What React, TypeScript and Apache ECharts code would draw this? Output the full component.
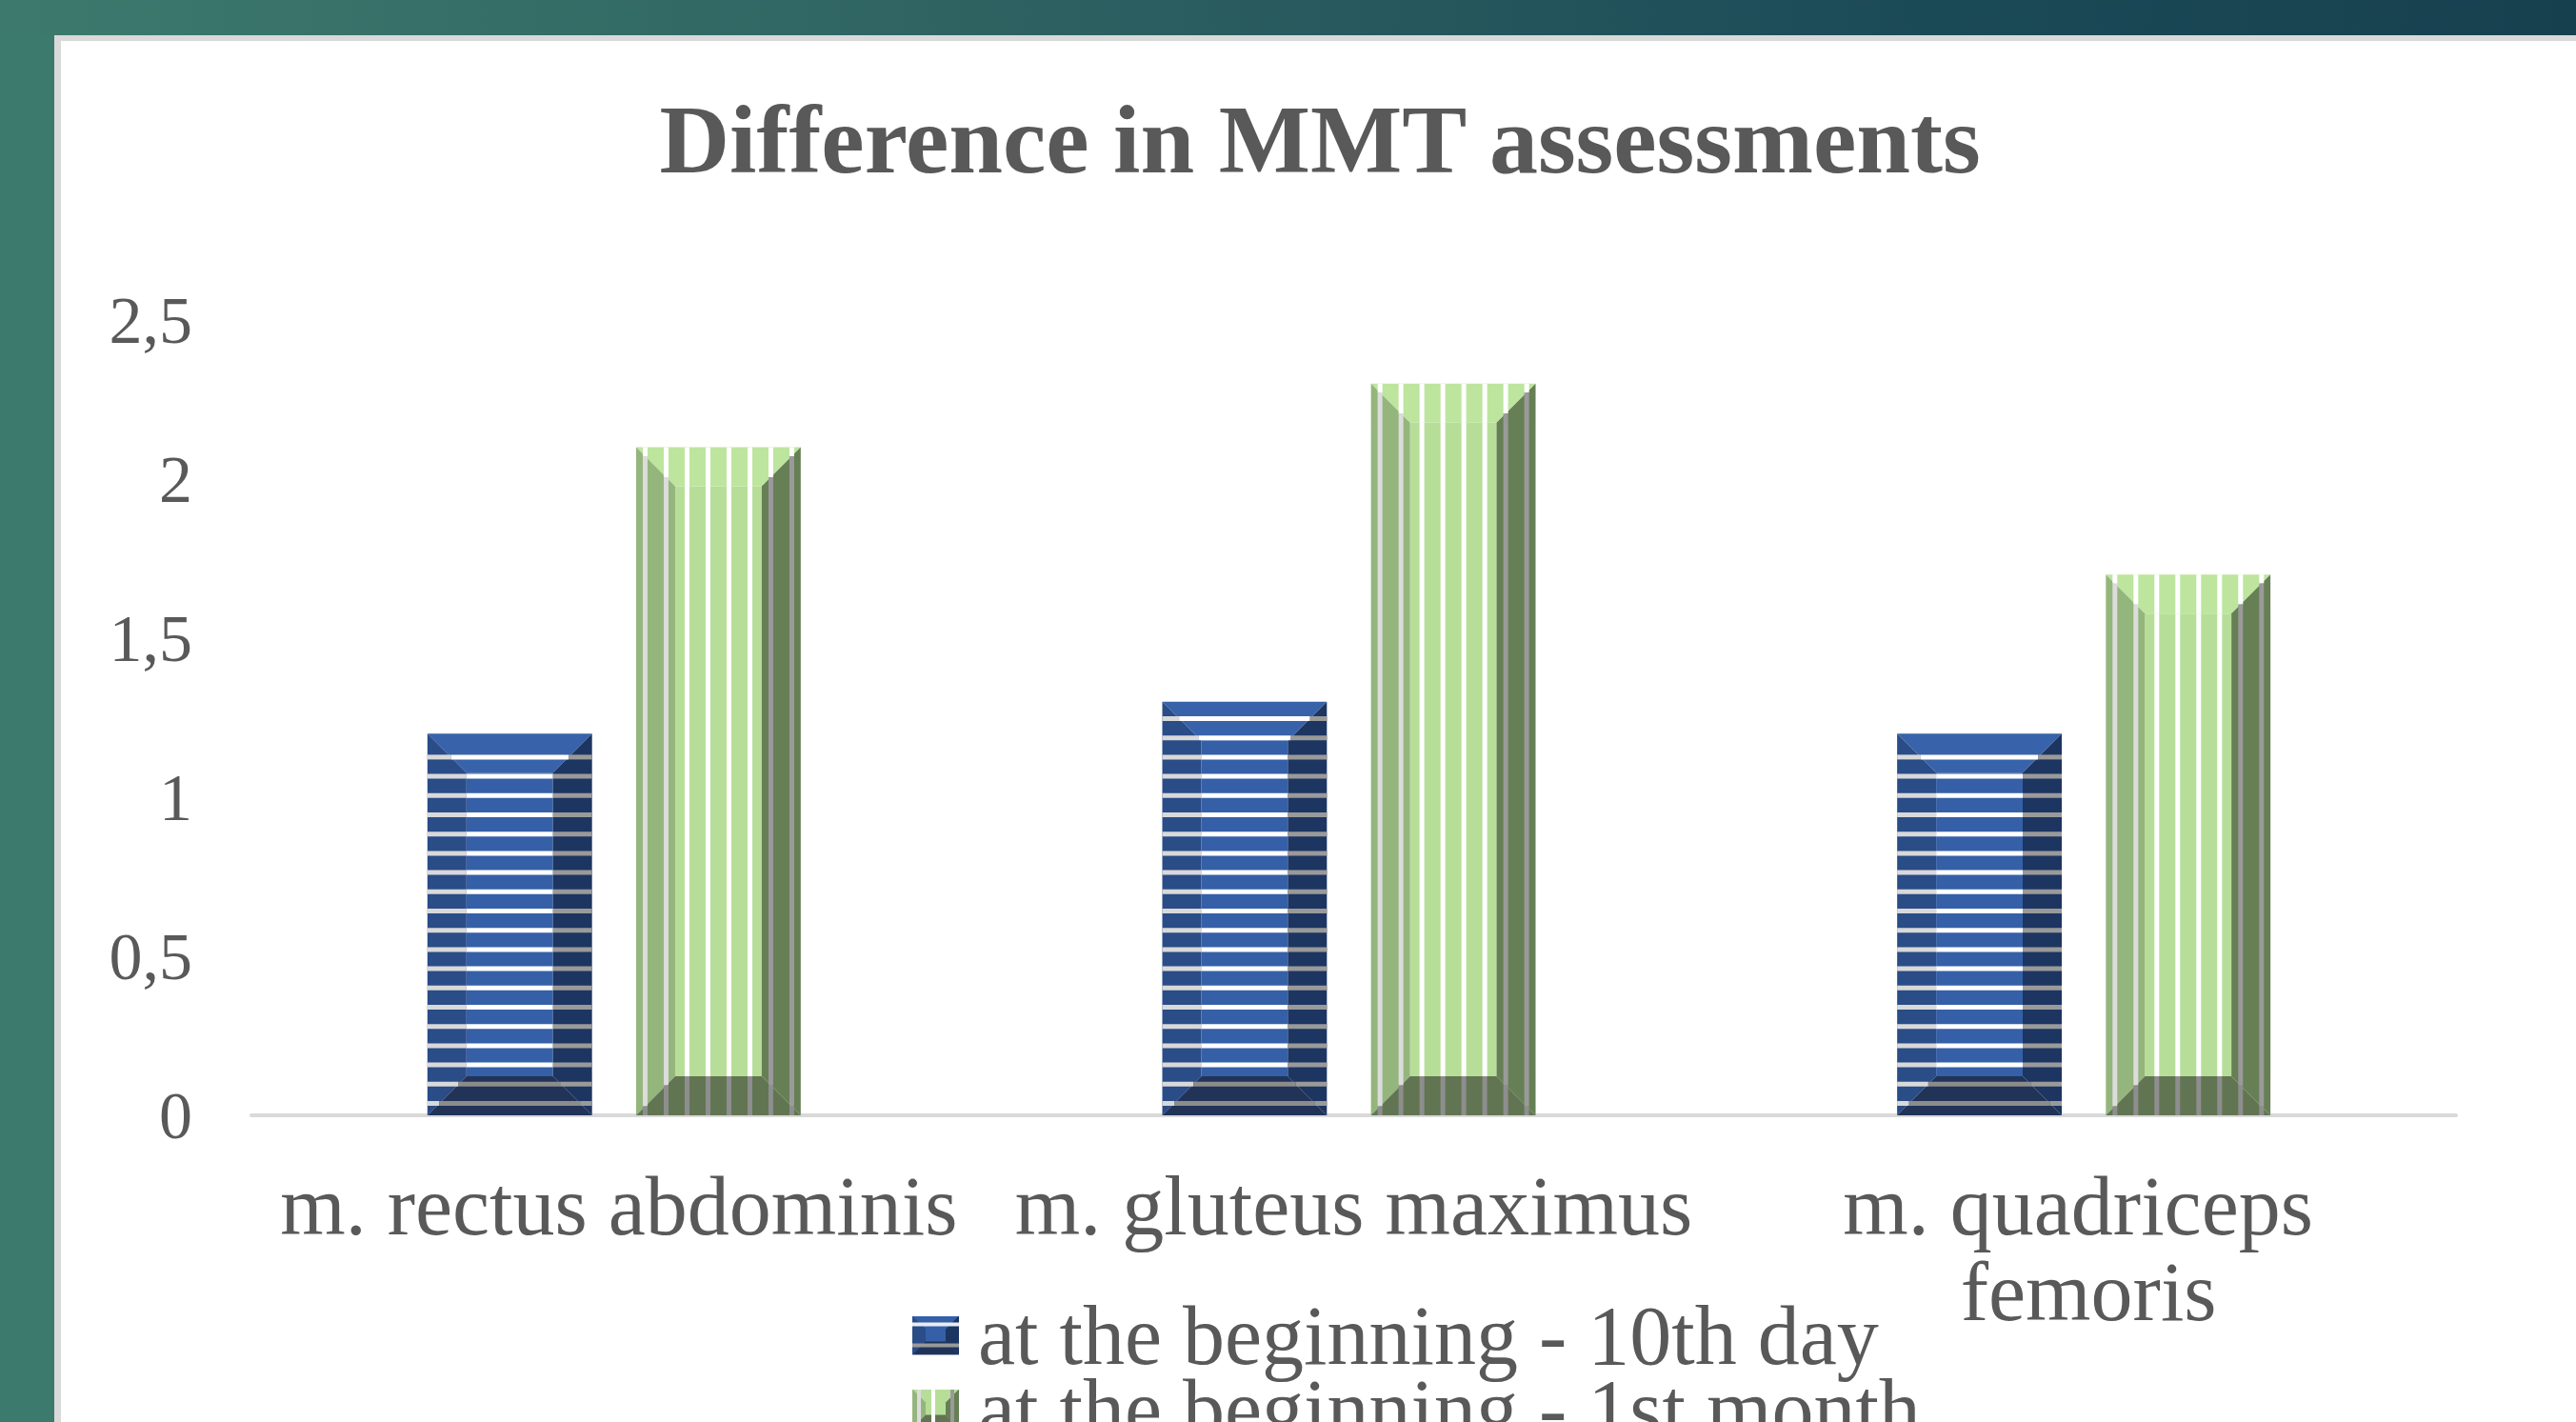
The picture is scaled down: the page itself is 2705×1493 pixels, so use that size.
import React, { useEffect, useRef } from 'react';
import * as echarts from 'echarts';

const titleText = 'Difference in MMT assessments';
const categories = ['m. rectus abdominis', 'm. gluteus maximus', 'm. quadriceps femoris'];
const seriesNames = ['at the beginning - 10th day', 'at the beginning - 1st month'];
const tenthDay = [1.2, 1.3, 1.2];
const firstMonth = [2.1, 2.3, 1.7];
const yTickValues = [0, 0.5, 1, 1.5, 2, 2.5];
const yTickLabels = ['0', '0,5', '1', '1,5', '2', '2,5'];

const FONT = "'Liberation Serif', 'Times New Roman', serif";
const TEXT = '#595959';

const bluePal = {
  face: '#3560a8', top: '#3863ab', left: '#2a4c87', right: '#1d3561', bottom: '#213357',
  sFace: '#ffffff', sTop: '#ffffff', sLeft: '#d9d9d9', sRight: '#9a9a9a', sBottom: '#8c8c8c',
};
const greenPal = {
  face: '#b7de98', top: '#bde59e', left: '#94b57c', right: '#667f55', bottom: '#627552',
  sFace: '#ffffff', sTop: '#ffffff', sLeft: '#dcdcdc', sRight: '#9a9a9a', sBottom: '#8e8e8e',
};

function makeRenderer(side: number, pal: any, horizontal: boolean) {
  return (_params: any, api: any) => {
    const cat = api.value(0);
    const val = api.value(1);
    const base = api.coord([cat, 0]);
    const top = api.coord([cat, val]);
    const band = api.size([1, 0])[0];
    const w = band * 0.224;
    const gap = band * 0.06;
    const cx = base[0] - band * 0.0065 + side * (w / 2 + gap / 2);
    const x0 = cx - w / 2;
    const x1 = cx + w / 2;
    const y0 = top[1];
    const y1 = base[1];
    const h = y1 - y0;
    const b = Math.min(41, w / 4, h / 2);
    const children: any[] = [];
    const poly = (pts: number[][], fill: string) =>
      children.push({ type: 'polygon', shape: { points: pts }, style: { fill } });
    const rect = (x: number, y: number, ww: number, hh: number, fill: string) => {
      if (ww > 0 && hh > 0) children.push({ type: 'rect', shape: { x, y, width: ww, height: hh }, style: { fill } });
    };
    rect(x0 + b, y0 + b, w - 2 * b, h - 2 * b, pal.face);
    poly([[x0, y0], [x1, y0], [x1 - b, y0 + b], [x0 + b, y0 + b]], pal.top);
    poly([[x0, y0], [x0 + b, y0 + b], [x0 + b, y1 - b], [x0, y1]], pal.left);
    poly([[x1, y0], [x1, y1], [x1 - b, y1 - b], [x1 - b, y0 + b]], pal.right);
    poly([[x0, y1], [x0 + b, y1 - b], [x1 - b, y1 - b], [x1, y1]], pal.bottom);
    if (horizontal) {
      const t = 5;
      for (let yr = y1 - 15; yr > y0 + 2; yr -= 20.2) {
        const ym = yr + t / 2;
        const d = Math.min(ym - y0, y1 - ym, b);
        rect(x0, yr, d, t, pal.sLeft);
        const mid = ym - y0 < b ? pal.sTop : y1 - ym < b ? pal.sBottom : pal.sFace;
        rect(x0 + d, yr, w - 2 * d, t, mid);
        rect(x1 - d, yr, d, t, pal.sRight);
      }
    } else {
      const t = 5;
      for (let xr = x0 + 7; xr + t < x1; xr += 22) {
        const xm = xr + t / 2;
        const d = Math.min(xm - x0, x1 - xm, b);
        rect(xr, y0, t, d, pal.sTop);
        const mid = xm - x0 < b ? pal.sLeft : x1 - xm < b ? pal.sRight : pal.sFace;
        rect(xr, y0 + d, t, h - 2 * d, mid);
        rect(xr, y1 - d, t, d, pal.sBottom);
      }
    }
    return { type: 'group', children };
  };
}

function svgUri(svg: string) {
  return 'image://data:image/svg+xml;charset=utf-8,' + encodeURIComponent(svg);
}

const blueIcon = svgUri(
  '<svg xmlns="http://www.w3.org/2000/svg" width="64" height="41" viewBox="0 0 64 41">' +
    '<rect x="0" y="0" width="49" height="41" fill="#3560a8"/>' +
    '<polygon points="0,0 14,14 14,27 0,41" fill="#2a4c87"/>' +
    '<polygon points="49,0 49,41 35,27 35,14" fill="#1d3561"/>' +
    '<polygon points="0,41 14,27 35,27 49,41" fill="#213357"/>' +
    '<rect x="0" y="7" width="49" height="4" fill="#e8ecf4"/>' +
    '<rect x="0" y="29" width="49" height="4" fill="#9a9a9a"/>' +
    '</svg>'
);
const greenIcon = svgUri(
  '<svg xmlns="http://www.w3.org/2000/svg" width="64" height="41" viewBox="0 0 64 41">' +
    '<rect x="0" y="0" width="49" height="41" fill="#b7de98"/>' +
    '<polygon points="0,0 14,14 14,27 0,41" fill="#94b57c"/>' +
    '<polygon points="49,0 49,41 35,27 35,14" fill="#667f55"/>' +
    '<polygon points="0,41 14,27 35,27 49,41" fill="#627552"/>' +
    '<rect x="5" y="0" width="4" height="41" fill="#dcdcdc"/>' +
    '<rect x="20" y="0" width="4" height="41" fill="#ffffff"/>' +
    '<rect x="40" y="0" width="4" height="41" fill="#9a9a9a"/>' +
    '</svg>'
);

const legendBase = {
  orient: 'vertical',
  left: 958,
  padding: 0,
  itemGap: 0,
  itemWidth: 64,
  itemHeight: 41,
  textStyle: { fontFamily: FONT, fontSize: 88, lineHeight: 77, color: TEXT },
};

export default function App() {
  const ref = useRef<HTMLDivElement>(null);
  useEffect(() => {
    if (!ref.current) return;
    const chart = echarts.init(ref.current, undefined, { renderer: 'svg' });
    const option: any = {
      animation: false,
      backgroundColor: '#ffffff',
      graphic: [
        {
          type: 'rect', z: -10, silent: true,
          shape: { x: 0, y: 0, width: 2705, height: 37 },
          style: {
            fill: new echarts.graphic.LinearGradient(0, 0, 1, 0, [
              { offset: 0, color: '#3d7a6d' },
              { offset: 0.4, color: '#2d6161' },
              { offset: 0.75, color: '#1b4a57' },
              { offset: 1, color: '#17404f' },
            ]),
          },
        },
        { type: 'rect', z: -10, silent: true, shape: { x: 0, y: 37, width: 57, height: 1456 }, style: { fill: '#3c7a6d' } },
        { type: 'rect', z: -10, silent: true, shape: { x: 57, y: 37, width: 2648, height: 6 }, style: { fill: '#d9d9d9' } },
        { type: 'rect', z: -10, silent: true, shape: { x: 57, y: 37, width: 7, height: 1456 }, style: { fill: '#d9d9d9' } },
      ],
      title: {
        text: titleText,
        left: 1386,
        top: 95,
        textAlign: 'center',
        padding: 0,
        textStyle: { fontFamily: FONT, fontSize: 102, fontWeight: 'bold', color: TEXT },
      },
      legend: [
        { ...legendBase, top: 1358, data: [{ name: seriesNames[0], icon: blueIcon }] },
        { ...legendBase, top: 1435, data: [{ name: seriesNames[1], icon: greenIcon }] },
      ],
      grid: { left: 264, right: 126, top: 336, bottom: 322 },
      xAxis: {
        type: 'category',
        data: categories,
        axisLine: { show: true, lineStyle: { color: '#d9d9d9', width: 4 } },
        axisTick: { show: false },
        axisLabel: {
          interval: 0,
          margin: 50,
          fontFamily: FONT,
          fontSize: 88,
          lineHeight: 90,
          color: TEXT,
          width: 760,
          overflow: 'break',
        },
      },
      yAxis: {
        type: 'value',
        min: yTickValues[0],
        max: yTickValues[yTickValues.length - 1],
        interval: yTickValues[1] - yTickValues[0],
        axisLine: { show: false },
        axisTick: { show: false },
        splitLine: { show: false },
        axisLabel: {
          margin: 62,
          fontFamily: FONT,
          fontSize: 70,
          color: TEXT,
          formatter: (v: number) => {
            const i = yTickValues.findIndex((t) => Math.abs(t - v) < 1e-9);
            return i >= 0 ? yTickLabels[i] : String(v);
          },
        },
      },
      series: [
        {
          name: seriesNames[0],
          type: 'custom',
          silent: true,
          itemStyle: { color: '#3560a8' },
          encode: { x: 0, y: 1 },
          data: tenthDay.map((v, i) => [i, v]),
          renderItem: makeRenderer(-1, bluePal, true),
        },
        {
          name: seriesNames[1],
          type: 'custom',
          silent: true,
          itemStyle: { color: '#b7de98' },
          encode: { x: 0, y: 1 },
          data: firstMonth.map((v, i) => [i, v]),
          renderItem: makeRenderer(1, greenPal, false),
        },
      ],
    };
    chart.setOption(option);
    return () => chart.dispose();
  }, []);
  return (
    <div
      ref={ref}
      style={{ position: 'fixed', left: 0, top: 0, width: 2705, height: 1493 }}
    />
  );
}
